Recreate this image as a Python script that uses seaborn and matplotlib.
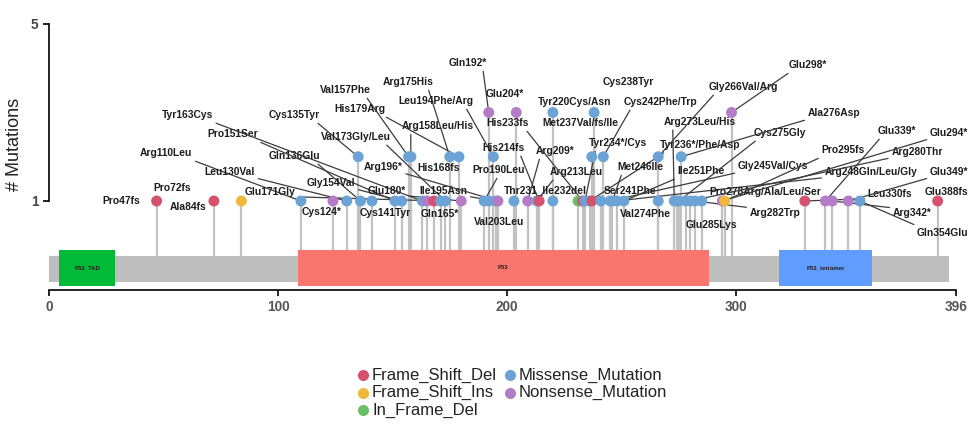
import matplotlib
matplotlib.use("Agg")
import matplotlib.pyplot as plt
from matplotlib.lines import Line2D
import pandas as pd
import seaborn as sns
from matplotlib.patches import Rectangle

sns.set_theme(style="white")
plt.rcParams["font.family"] = ["Liberation Sans", "DejaVu Sans"]

# ---- protein track -------------------------------------------------------
protein_length = 396
backbone_end = 393
domain_names = ["P53_TAD", "P53", "P53_tetramer"]
domain_starts = [4.5, 108.7, 318.8]
domain_ends = [29.0, 288.0, 359.4]

# ---- mutations: amino-acid position, number of samples, class, label ----
positions = [47, 72, 84, 110, 124, 130, 135, 136, 141, 151, 154, 157, 158,
             163, 165, 168, 171, 173, 175, 179, 180, 190, 192, 192, 194, 195,
             196, 203, 204, 209, 213, 214, 220, 220, 231, 233, 234, 236, 237,
             237, 238, 241, 242, 245, 246, 248, 251, 266, 266, 273, 274, 275,
             276, 278, 280, 282, 285, 294, 295, 298, 330, 339, 342, 349, 354,
             388]
counts = [1, 1, 1, 1, 1, 1, 2, 1, 1, 1, 1, 2, 2,
          1, 1, 1, 1, 1, 2, 2, 1, 1, 3, 1, 2, 1,
          1, 1, 3, 1, 1, 1, 3, 1, 1, 1, 1, 1, 2,
          1, 3, 1, 2, 1, 1, 1, 1, 2, 1, 1, 1, 1,
          2, 1, 1, 1, 1, 1, 1, 3, 1, 1, 1, 1, 1,
          1]
FSD, FSI, IFD, MIS, NON = ("Frame_Shift_Del", "Frame_Shift_Ins", "In_Frame_Del",
                           "Missense_Mutation", "Nonsense_Mutation")
classes = [FSD, FSD, FSI, MIS, NON, MIS, MIS, MIS, MIS, MIS, MIS, MIS, MIS,
           MIS, NON, FSD, MIS, MIS, MIS, MIS, NON, MIS, NON, MIS, MIS, MIS,
           NON, MIS, NON, NON, MIS, FSD, MIS, MIS, IFD, FSD, MIS, MIS, MIS,
           FSD, MIS, MIS, MIS, MIS, MIS, MIS, MIS, MIS, MIS, MIS, MIS, MIS,
           MIS, MIS, MIS, MIS, MIS, NON, FSI, NON, FSD, NON, NON, NON, MIS,
           FSD]
labels = ["Pro47fs", "Pro72fs", "Ala84fs", "Arg110Leu", "Cys124*", "Leu130Val",
          "Cys135Tyr", "Gln136Glu", "Cys141Tyr", "Pro151Ser", "Gly154Val",
          "Val157Phe", "Arg158Leu/His", "Tyr163Cys", "Gln165*", "His168fs",
          "Glu171Gly", "Val173Gly/Leu", "Arg175His", "His179Arg", "Glu180*",
          "Pro190Leu", "Gln192*", "", "Leu194Phe/Arg", "Ile195Asn", "Arg196*",
          "Val203Leu", "Glu204*", "Arg209*", "Arg213Leu", "His214fs",
          "Tyr220Cys/Asn", "", "Thr231_Ile232del", "His233fs", "Tyr234*/Cys",
          "Tyr236*/Phe/Asp", "Met237Val/fs/Ile", "", "Cys238Tyr", "Ser241Phe",
          "Cys242Phe/Trp", "Gly245Val/Cys", "Met246Ile", "Arg248Gln/Leu/Gly",
          "Ile251Phe", "Gly266Val/Arg", "", "Arg273Leu/His", "Val274Phe",
          "Cys275Gly", "Ala276Asp", "Pro278Arg/Ala/Leu/Ser", "Arg280Thr",
          "Arg282Trp", "Glu285Lys", "Glu294*", "Pro295fs", "Glu298*",
          "Leu330fs", "Glu339*", "Arg342*", "Glu349*", "Gln354Glu", "Glu388fs"]

class_order = [FSD, FSI, IFD, MIS, NON]
class_colors = ["#D4526E", "#EFB83C", "#6ABF69", "#6BA3D6", "#B47CC7"]

# repelled label placement (position, height, draw a leader line)
label_layout = {
    "Pro47fs": (31.4, 1.00, False), "Pro72fs": (53.7, 1.29, False),
    "Ala84fs": (60.7, 0.86, False), "Arg110Leu": (51.1, 2.08, True),
    "Cys124*": (119.2, 0.75, False), "Leu130Val": (79.0, 1.66, True),
    "Cys135Tyr": (107.0, 2.94, True), "Gln136Glu": (107.0, 2.02, True),
    "Cys141Tyr": (146.7, 0.73, False), "Pro151Ser": (80.3, 2.51, True),
    "Gly154Val": (123.1, 1.41, True), "Val157Phe": (129.3, 3.51, True),
    "Arg158Leu/His": (169.9, 2.69, True), "Tyr163Cys": (60.3, 2.94, True),
    "Gln165*": (170.7, 0.71, False), "His168fs": (170.3, 1.75, False),
    "Glu171Gly": (96.5, 1.20, True), "Val173Gly/Leu": (134.1, 2.45, True),
    "Arg175His": (156.8, 3.69, True), "His179Arg": (135.8, 3.08, True),
    "Glu180*": (147.6, 1.23, True), "Pro190Leu": (196.5, 1.70, True),
    "Gln192*": (183.0, 4.12, True), "Leu194Phe/Arg": (169.0, 3.26, True),
    "Ile195Asn": (172.1, 1.23, True), "Arg196*": (145.9, 1.77, True),
    "Val203Leu": (196.5, 0.53, False), "Glu204*": (199.1, 3.42, False),
    "Arg209*": (221.0, 2.13, True), "Arg213Leu": (230.1, 1.66, True),
    "His214fs": (198.3, 2.20, True), "Tyr220Cys/Asn": (229.3, 3.24, False),
    "Thr231_Ile232del": (216.6, 1.23, True), "His233fs": (200.4, 2.76, True),
    "Tyr234*/Cys": (248.5, 2.31, True), "Tyr236*/Phe/Asp": (284.3, 2.27, True),
    "Met237Val/fs/Ile": (231.9, 2.76, False), "Cys238Tyr": (252.8, 3.69, False),
    "Ser241Phe": (253.7, 1.23, True), "Cys242Phe/Trp": (266.8, 3.24, True),
    "Gly245Val/Cys": (316.2, 1.79, True), "Met246Ile": (258.1, 1.77, True),
    "Arg248Gln/Leu/Gly": (359.0, 1.66, True), "Ile251Phe": (284.7, 1.68, True),
    "Gly266Val/Arg": (303.1, 3.58, True), "Arg273Leu/His": (284.3, 2.79, True),
    "Val274Phe": (260.3, 0.71, False), "Cys275Gly": (319.2, 2.54, True),
    "Ala276Asp": (342.8, 2.99, True), "Pro278Arg/Ala/Leu/Ser": (312.7, 1.20, True),
    "Arg280Thr": (379.0, 2.11, True), "Arg282Trp": (317.0, 0.73, True),
    "Glu285Lys": (289.1, 0.46, False), "Glu294*": (393.0, 2.54, True),
    "Pro295fs": (346.7, 2.15, True), "Glu298*": (331.4, 4.07, True),
    "Leu330fs": (367.2, 1.16, True), "Glu339*": (370.3, 2.58, True),
    "Arg342*": (376.9, 0.73, True), "Glu349*": (393.0, 1.66, True),
    "Gln354Glu": (390.0, 0.28, True), "Glu388fs": (391.7, 1.20, False),
}

df = pd.DataFrame({"position": positions, "count": counts,
                   "class": classes, "label": labels})

fig = plt.figure(figsize=(9.77, 4.28), dpi=100)
ax = fig.add_axes([0, 0, 1, 1])
ax.set_xlim(-21.39, 405.17)
ax.set_ylim(-4.130, 5.542)

stem_base = -0.243
bar_bottom = -0.83
dom_top, dom_bottom = -0.107, -0.92

# lollipop stems
ax.vlines(df["position"], stem_base, df["count"], color="#C2C2C2",
          lw=1.6, zorder=1)

# protein backbone and domains
ax.add_patch(Rectangle((0, bar_bottom), backbone_end, stem_base - bar_bottom,
                       facecolor="#BEBEBE", edgecolor="none", zorder=2))
for name, s, e, c in zip(domain_names, domain_starts, domain_ends,
                         ["#00BA38", "#F8766D", "#619CFF"]):
    ax.add_patch(Rectangle((s, dom_bottom), e - s, dom_top - dom_bottom,
                           facecolor=c, edgecolor="none", zorder=2.5))
    ax.text((s + e) / 2, (dom_top + dom_bottom) / 2, name, fontsize=4.3,
            fontweight="bold", color="#2b1a1a", ha="center", va="center",
            zorder=3)

# labels with leader lines
for pos, cnt, lab in zip(positions, counts, labels):
    if not lab:
        continue
    lx, ly, connect = label_layout[lab]
    if connect:
        dx = pos - lx
        rx = 0.5 if abs(dx) < 8 else (0.88 if dx > 0 else 0.12)
        dy = cnt - ly
        ry = 0.05 if dy < -0.1 else (0.95 if dy > 0.1 else 0.5)
        ax.annotate(lab, xy=(pos, cnt), xytext=(lx, ly), ha="center",
                    va="center", fontsize=7.4, fontweight="bold",
                    color="#1c1c1c", zorder=3,
                    arrowprops=dict(arrowstyle="-", color="#3c3c3c", lw=0.9,
                                    shrinkA=0, shrinkB=0, relpos=(rx, ry)))
    else:
        ax.text(lx, ly, lab, ha="center", va="center", fontsize=7.4,
                fontweight="bold", color="#1c1c1c", zorder=3)

# lollipop heads
sns.scatterplot(data=df, x="position", y="count", hue="class",
                hue_order=class_order, palette=class_colors, s=62,
                edgecolor="none", linewidth=0, legend=False, ax=ax, zorder=4)

# axes
for side in ["top", "right"]:
    ax.spines[side].set_visible(False)
ax.spines["left"].set_position(("data", 0))
ax.spines["left"].set_bounds(1, 5)
ax.spines["bottom"].set_position(("data", -1.01))
ax.spines["bottom"].set_bounds(0, protein_length)
for side in ["left", "bottom"]:
    ax.spines[side].set_color("black")
    ax.spines[side].set_linewidth(1.2)
ax.set_xticks([0, 100, 200, 300, protein_length])
ax.set_yticks([1, 5])
ax.tick_params(axis="both", which="both", bottom=True, left=True,
               direction="out", length=4, width=1.2, color="black")
ax.tick_params(axis="x", labelsize=9.8, labelcolor="#555555", pad=3.5)
ax.tick_params(axis="y", labelsize=9.8, labelcolor="#444444", pad=3.5)
for t in ax.get_xticklabels() + ax.get_yticklabels():
    t.set_fontweight("bold")
ax.set_xlabel("")
ax.set_ylabel("")
ax.text(-14.85, 2.27, "# Mutations", rotation=90, fontsize=13,
        color="#222222", ha="center", va="center")

# class legend
fig_w, fig_h = 977, 428
legend_cols = [(363, 372), (510, 519)]
legend_rows = [375, 392.5, 410]
slots = [(0, 0), (0, 1), (0, 2), (1, 0), (1, 1)]
for name, col, (ci, ri) in zip(class_order, class_colors, slots):
    mx, tx = legend_cols[ci]
    yy = 1 - legend_rows[ri] / fig_h
    fig.lines.append(Line2D(
        [mx / fig_w], [yy], marker="o", markersize=8, color=col,
        markeredgewidth=0, linestyle="none", transform=fig.transFigure))
    fig.text(tx / fig_w, yy, name, fontsize=12, color="#222222",
             ha="left", va="center")

fig.savefig("out.png", dpi=100)
